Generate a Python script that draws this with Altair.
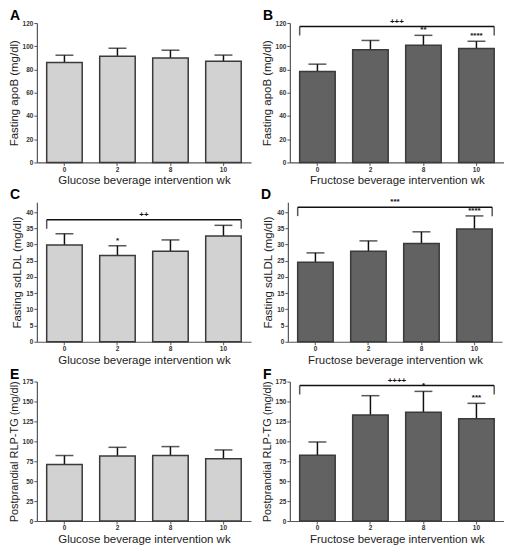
import altair as alt
import pandas as pd

weeks = ["0", "2", "8", "10"]

a_mean = [86.0, 91.5, 90.0, 87.0]
a_err = [6.3, 6.8, 6.6, 5.4]
b_mean = [78.3, 97.1, 100.9, 98.0]
b_err = [6.3, 7.9, 8.5, 6.3]
b_star = ["", "", "**", "****"]
c_mean = [29.8, 26.6, 27.9, 32.6]
c_err = [3.5, 3.0, 3.5, 3.3]
c_star = ["", "*", "", ""]
d_mean = [24.5, 27.9, 30.3, 34.8]
d_err = [2.9, 3.2, 3.6, 4.0]
d_star = ["", "", "", "****"]
e_mean = [71.0, 81.7, 82.2, 78.0]
e_err = [11.2, 10.8, 11.2, 11.2]
f_mean = [82.6, 133.2, 136.5, 128.2]
f_err = [16.6, 24.1, 26.2, 19.5]
f_star = ["", "", "*", "***"]

no_star = ["", "", "", ""]

LIGHT = "#d2d2d2"
DARK = "#626262"
FONT = "Liberation Sans"
W = 215
H = 140
PI = 0.33
PO = 0.185
HALF_BAR = W / (len(weeks) - PI + 2 * PO) * (1 - PI) / 2


def panel(letter, means, errs, stars, ymax, ytick_max, ystep, ytitle, xtitle, fill,
          bracket_y=None, bracket_label="", ytitle_size=11.5):
    df = pd.DataFrame({
        "wk": weeks,
        "mean": means,
        "top": [m + e for m, e in zip(means, errs)],
        "star": stars,
    })
    xscale = alt.Scale(domain=weeks, paddingInner=PI, paddingOuter=PO)
    yscale = alt.Scale(domain=[0, ymax], nice=False, zero=True)
    yaxis = alt.Axis(values=list(range(0, ytick_max + 1, ystep)),
                     titleFontSize=ytitle_size, titlePadding=3)
    xaxis = alt.Axis(labelAngle=0, titlePadding=2, titleFontSize=11.5)

    def X(**kw):
        return alt.X("wk:N", scale=xscale, axis=xaxis, title=xtitle, **kw)

    def Y(field):
        return alt.Y(field, scale=yscale, axis=yaxis, title=ytitle)

    base = alt.Chart(df)
    rule = base.mark_rule(color="#111", strokeWidth=1.5).encode(
        x=X(), y=Y("mean:Q"), y2="top:Q")
    cap = base.mark_tick(color="#111", thickness=1.5, size=18).encode(
        x=X(), y=Y("top:Q"))
    bars = base.mark_bar(fill=fill, stroke="#3a3a3a", strokeWidth=1.5).encode(
        x=X(), y=Y("mean:Q"))
    star = base.mark_text(dy=-1, baseline="bottom", fontSize=8, fontWeight="bold",
                          font=FONT, color="#111").encode(
        x=X(), y=Y("top:Q"), text="star:N")
    layers = [rule, cap, bars, star]

    if bracket_y is not None:
        bdf = pd.DataFrame({"wk": ["0"], "wk_end": ["10"], "y": [bracket_y],
                            "lab": [bracket_label]})
        rdf = pd.DataFrame({"wk": ["10"], "y": [bracket_y]})
        bb = alt.Chart(bdf)
        hline = bb.mark_rule(color="#111", strokeWidth=1.5, x2Offset=HALF_BAR).encode(
            x=X(bandPosition=0), x2=alt.X2("wk_end:N"), y=Y("y:Q"))
        lt = bb.mark_tick(orient="vertical", color="#111", thickness=1.5, size=9,
                          yOffset=4.5).encode(x=X(bandPosition=0), y=Y("y:Q"))
        rt = alt.Chart(rdf).mark_tick(orient="vertical", color="#111", thickness=1.5,
                                      size=9, yOffset=4.5).encode(
            x=X(bandPosition=1), y=Y("y:Q"))
        lab = bb.mark_text(baseline="bottom", dy=-1, fontSize=8, fontWeight="bold",
                           font=FONT, color="#111").encode(
            x=alt.value(W / 2), y=Y("y:Q"), text="lab:N")
        layers += [hline, lt, rt, lab]

    let = alt.Chart(pd.DataFrame({"l": [letter]})).mark_text(
        align="left", baseline="bottom", fontSize=14, fontWeight="bold", font=FONT,
        color="#000").encode(x=alt.value(-27), y=alt.value(0), text="l:N")
    layers.append(let)
    return alt.layer(*layers).properties(width=W, height=H)


gx = "Glucose beverage intervention wk"
fx = "Fructose beverage intervention wk"
ey = "Postprandial RLP-TG (mg/dl)"

pA = panel("A", a_mean, a_err, no_star, 120, 120, 20, "Fasting apoB (mg/dl)", gx, LIGHT)
pB = panel("B", b_mean, b_err, b_star, 120, 120, 20, "Fasting apoB (mg/dl)", fx, DARK, 117, "+++")
pC = panel("C", c_mean, c_err, c_star, 43, 40, 5, "Fasting sdLDL (mg/dl)", gx, LIGHT, 37.6, "++")
pD = panel("D", d_mean, d_err, d_star, 43, 40, 5, "Fasting sdLDL (mg/dl)", fx, DARK, 41.5, "***")
pE = panel("E", e_mean, e_err, no_star, 175, 175, 25, ey, gx, LIGHT, ytitle_size=11)
pF = panel("F", f_mean, f_err, f_star, 175, 175, 25, ey, fx, DARK, 170, "++++", ytitle_size=11)

chart = alt.vconcat(
    alt.hconcat(pA, pB, spacing=10),
    alt.hconcat(pC, pD, spacing=10),
    alt.hconcat(pE, pF, spacing=10),
    spacing=2,
).configure_axis(
    labelFont=FONT, labelFontSize=6.5, labelFontWeight="bold", labelColor="#333",
    titleFont=FONT, titleFontSize=11, titleFontWeight="normal", titleColor="#222",
    domainColor="#555", domainWidth=1.2, tickColor="#555", tickSize=3, grid=False,
    labelPadding=1, titlePadding=4,
).configure_view(stroke=None).properties(background="white", padding=0)

chart.save("out.html", embed_options={"renderer": "svg", "actions": False})
